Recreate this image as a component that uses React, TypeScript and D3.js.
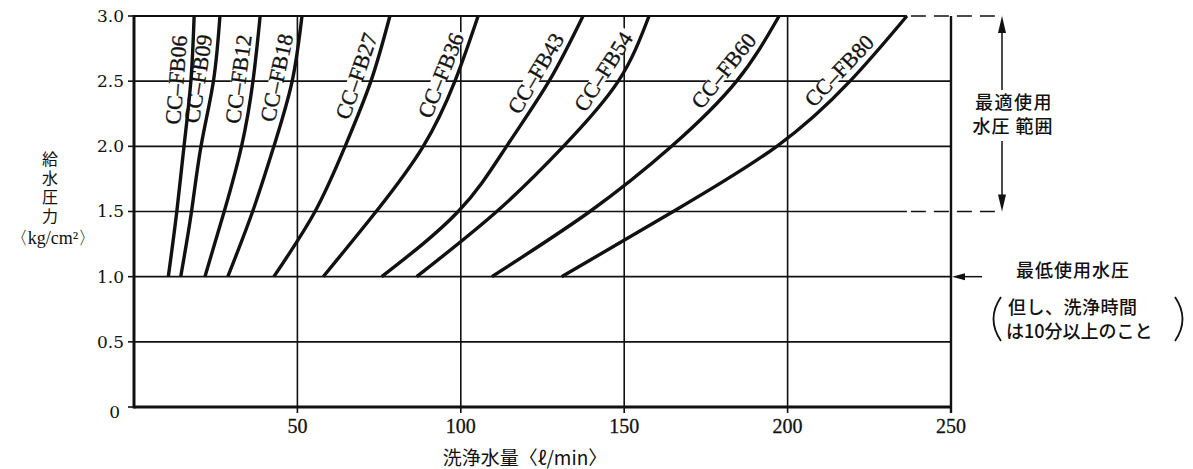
import { useEffect, useRef } from "react";
import * as d3 from "d3";

// 給水圧力 (kg/cm²) at which each flow value was read
const pressureLevels = [1.0, 1.5, 2.0, 2.5, 3.0];

const modelNames = [
  "CC–FB06",
  "CC–FB09",
  "CC–FB12",
  "CC–FB18",
  "CC–FB27",
  "CC–FB36",
  "CC–FB43",
  "CC–FB54",
  "CC–FB60",
  "CC–FB80",
];

// 洗浄水量 (ℓ/min) per model, one value per pressure level
const fb06 = [10.5, 13.1, 15.3, 17.4, 18.4];
const fb09 = [14.3, 17.6, 20.5, 24.3, 26.3];
const fb12 = [21.7, 27.6, 32.9, 36.4, 38.6];
const fb18 = [28.7, 36.3, 42.8, 48.4, 51.4];
const fb27 = [42.8, 55.4, 64.6, 72.5, 78.3];
const fb36 = [57.9, 74.1, 88.5, 98.2, 105.3];
const fb43 = [75.8, 99.2, 114.0, 127.0, 137.4];
const fb54 = [86.5, 111.0, 131.4, 148.2, 157.6];
const fb60 = [109.5, 139.5, 164.5, 184.4, 197.4];
const fb80 = [130.9, 165.0, 196.7, 219.1, 236.5];
const flowSeries = [fb06, fb09, fb12, fb18, fb27, fb36, fb43, fb54, fb60, fb80];

const xTicks = [50, 100, 150, 200, 250];
const xTickLabels = ["50", "100", "150", "200", "250"];
const yTicks = [0, 0.5, 1.0, 1.5, 2.0, 2.5, 3.0];
const yTickLabels = ["0", "0.5", "1.0", "1.5", "2.0", "2.5", "3.0"];

const optimalRange = [1.5, 3.0];
const minPressure = 1.0;
const labelPressure = 2.5;

const W = 1193;
const H = 469;
const SERIF = "'Liberation Serif', 'Times New Roman', serif";
const SERIF_WIDE = "'DejaVu Serif', serif";
const CJK = "'Noto Sans CJK JP', sans-serif";
const INK = "#111";

export default function App() {
  const ref = useRef<SVGSVGElement>(null);

  useEffect(() => {
    if (!ref.current) return;
    const svg = d3.select(ref.current);
    svg.selectAll("*").remove();

    const x = d3.scaleLinear().domain([0, 250]).range([134, 951]);
    const y = d3.scaleLinear().domain([0, 3]).range([407, 16]);
    const x0 = x(0);
    const y0 = y(0);
    const topFlow = d3.max(flowSeries, (s) => s[s.length - 1]) ?? 0;
    const dashEnd = 1003;

    // horizontal gridlines
    const gh = svg.append("g").attr("stroke", INK).attr("stroke-width", 1.6);
    yTicks
      .filter((t) => t > 0 && t < 3 && t !== optimalRange[0])
      .forEach((t) => {
        gh.append("line")
          .attr("x1", x0)
          .attr("x2", x(250))
          .attr("y1", y(t))
          .attr("y2", y(t));
      });
    // top edge and optimal-range lower line: solid, then dashed out to the arrow
    [optimalRange[1], optimalRange[0]].forEach((t) => {
      gh.append("line")
        .attr("x1", x0)
        .attr("x2", x(topFlow))
        .attr("y1", y(t))
        .attr("y2", y(t))
        .attr("stroke-width", t === 3 ? 2 : 1.6);
      gh.append("line")
        .attr("x1", x(topFlow))
        .attr("x2", dashEnd)
        .attr("y1", y(t))
        .attr("y2", y(t))
        .attr("stroke-dasharray", "15,8")
        .attr("stroke-dashoffset", -4);
    });

    // vertical gridlines + ticks
    xTicks.forEach((t) => {
      svg
        .append("line")
        .attr("x1", x(t))
        .attr("x2", x(t))
        .attr("y1", y(3))
        .attr("y2", y0 + 6)
        .attr("stroke", INK)
        .attr("stroke-width", t === 250 ? 2.4 : 1.6);
    });

    // y ticks
    yTicks.forEach((t) => {
      svg
        .append("line")
        .attr("x1", x0 - 6)
        .attr("x2", x0)
        .attr("y1", y(t))
        .attr("y2", y(t))
        .attr("stroke", INK)
        .attr("stroke-width", 1.6);
    });

    // axes
    svg
      .append("line")
      .attr("x1", x0)
      .attr("x2", x0)
      .attr("y1", y(3) - 1)
      .attr("y2", y0 + 1.5)
      .attr("stroke", INK)
      .attr("stroke-width", 3);
    svg
      .append("line")
      .attr("x1", x0)
      .attr("x2", x(250))
      .attr("y1", y0)
      .attr("y2", y0)
      .attr("stroke", INK)
      .attr("stroke-width", 3);

    // tick labels
    svg
      .append("g")
      .selectAll("text")
      .data(yTicks)
      .join("text")
      .attr("x", (d) => (d === 0 ? x0 - 14 : x0 - 10))
      .attr("y", (d) => (d === 0 ? y(d) + 5 : y(d)))
      .attr("dy", "0.35em")
      .attr("text-anchor", "end")
      .attr("font-family", SERIF_WIDE)
      .attr("font-size", 17)
      .attr("fill", INK)
      .text((_, i) => yTickLabels[i]);

    svg
      .append("g")
      .selectAll("text")
      .data(xTicks)
      .join("text")
      .attr("x", (d) => x(d))
      .attr("y", y0 + 26)
      .attr("text-anchor", "middle")
      .attr("font-family", SERIF)
      .attr("font-size", 20)
      .attr("stroke", INK)
      .attr("stroke-width", 0.3)
      .attr("fill", INK)
      .text((_, i) => xTickLabels[i]);

    // curves and labels
    const line = d3
      .line<number>()
      .x((d) => x(d))
      .y((_, i) => y(pressureLevels[i]))
      .curve(d3.curveNatural);

    const labelLayer = svg.append("g");
    const curveLayer = svg.append("g");
    const textLayer = svg.append("g");

    flowSeries.forEach((s, i) => {
      const path = curveLayer
        .append("path")
        .attr("d", line(s))
        .attr("fill", "none")
        .attr("stroke", INK)
        .attr("stroke-width", 3.4)
        .attr("stroke-linejoin", "round");
      const node = path.node() as SVGPathElement;
      const total = node.getTotalLength();

      // arc length where the curve reaches the label pressure
      const target = y(labelPressure);
      let lo = 0;
      let hi = total;
      for (let k = 0; k < 30; k++) {
        const mid = (lo + hi) / 2;
        if (node.getPointAtLength(mid).y > target) lo = mid;
        else hi = mid;
      }
      const sMid = (lo + hi) / 2;

      const t = textLayer
        .append("text")
        .attr("text-anchor", "middle")
        .attr("dy", "0.35em")
        .attr("font-family", SERIF)
        .attr("font-size", 22)
        .attr("stroke", INK)
        .attr("stroke-width", 0.35)
        .attr("fill", INK)
        .text(modelNames[i]);
      const w = (t.node() as SVGTextElement).getComputedTextLength();

      const p1 = node.getPointAtLength(Math.max(0, sMid - w / 2));
      const p2 = node.getPointAtLength(Math.min(total, sMid + w / 2));
      const a = Math.atan2(p2.y - p1.y, p2.x - p1.x);
      const off = 14;
      const cx = (p1.x + p2.x) / 2 + off * Math.sin(a);
      const cy = (p1.y + p2.y) / 2 - off * Math.cos(a);
      const deg = (a * 180) / Math.PI;
      const tf = `translate(${cx},${cy}) rotate(${deg})`;

      t.attr("transform", tf);
      labelLayer
        .append("rect")
        .attr("transform", tf)
        .attr("x", -w / 2 - 3)
        .attr("y", -7)
        .attr("width", w + 6)
        .attr("height", 14)
        .attr("fill", "#fff");
    });

    // axis titles
    svg
      .append("text")
      .attr("x", 50)
      .attr("y", 151)
      .attr("writing-mode", "vertical-rl")
      .attr("letter-spacing", 3)
      .attr("font-family", CJK)
      .attr("font-size", 16)
      .attr("fill", INK)
      .text("給水圧力");
    svg
      .append("text")
      .attr("x", 53)
      .attr("y", 238)
      .attr("dy", "0.35em")
      .attr("text-anchor", "middle")
      .attr("font-family", SERIF)
      .attr("font-size", 18)
      .attr("fill", INK)
      .text("〈kg/cm²〉");

    svg
      .append("text")
      .attr("x", 525)
      .attr("y", 458)
      .attr("dy", "0.35em")
      .attr("text-anchor", "middle")
      .attr("font-family", CJK)
      .attr("font-size", 19)
      .attr("fill", INK)
      .text("洗浄水量〈ℓ/min〉");

    // optimal pressure range arrow
    const ax = 1002;
    const yTop = y(optimalRange[1]);
    const yBot = y(optimalRange[0]);
    svg
      .append("line")
      .attr("x1", ax)
      .attr("x2", ax)
      .attr("y1", yTop + 10)
      .attr("y2", 90)
      .attr("stroke", INK)
      .attr("stroke-width", 1.5);
    svg
      .append("line")
      .attr("x1", ax)
      .attr("x2", ax)
      .attr("y1", 141)
      .attr("y2", yBot - 10)
      .attr("stroke", INK)
      .attr("stroke-width", 1.5);
    svg
      .append("path")
      .attr("d", `M${ax},${yTop} L${ax - 4},${yTop + 17} L${ax + 4},${yTop + 17} Z`)
      .attr("fill", INK);
    svg
      .append("path")
      .attr("d", `M${ax},${yBot} L${ax - 4},${yBot - 17} L${ax + 4},${yBot - 17} Z`)
      .attr("fill", INK);

    const note = (tx: number, ty: number, s: string, anchor = "middle") =>
      svg
        .append("text")
        .attr("x", tx)
        .attr("y", ty)
        .attr("dy", "0.35em")
        .attr("text-anchor", anchor)
        .attr("font-family", CJK)
        .attr("font-size", 18)
        .attr("font-weight", 500)
        .attr("fill", INK)
        .text(s);

    note(1014, 103, "最適使用").attr("letter-spacing", 1.5);
    note(1013, 127, "水圧 範囲").attr("letter-spacing", 1);

    // minimum pressure arrow
    const ym = y(minPressure);
    svg
      .append("line")
      .attr("x1", x(250) + 10)
      .attr("x2", 982)
      .attr("y1", ym)
      .attr("y2", ym)
      .attr("stroke", INK)
      .attr("stroke-width", 1.5);
    svg
      .append("path")
      .attr("d", `M${x(250) + 1},${ym} L${x(250) + 14},${ym - 3.5} L${x(250) + 14},${ym + 3.5} Z`)
      .attr("fill", INK);

    note(1073, ym - 6, "最低使用水圧").attr("letter-spacing", 1);
    note(1008, 308, "但し、洗浄時間", "start").attr("letter-spacing", 0.5);
    note(1006, 332, "は10分以上のこと", "start");

    svg
      .append("path")
      .attr("d", "M1001,297 Q986,319 1001,341")
      .attr("fill", "none")
      .attr("stroke", INK)
      .attr("stroke-width", 1.8);
    svg
      .append("path")
      .attr("d", "M1175,297 Q1190,319 1175,341")
      .attr("fill", "none")
      .attr("stroke", INK)
      .attr("stroke-width", 1.8);
  }, []);

  return (
    <svg
      ref={ref}
      width={W}
      height={H}
      viewBox={`0 0 ${W} ${H}`}
      style={{ position: "absolute", left: 0, top: 0, background: "#fff" }}
    />
  );
}
